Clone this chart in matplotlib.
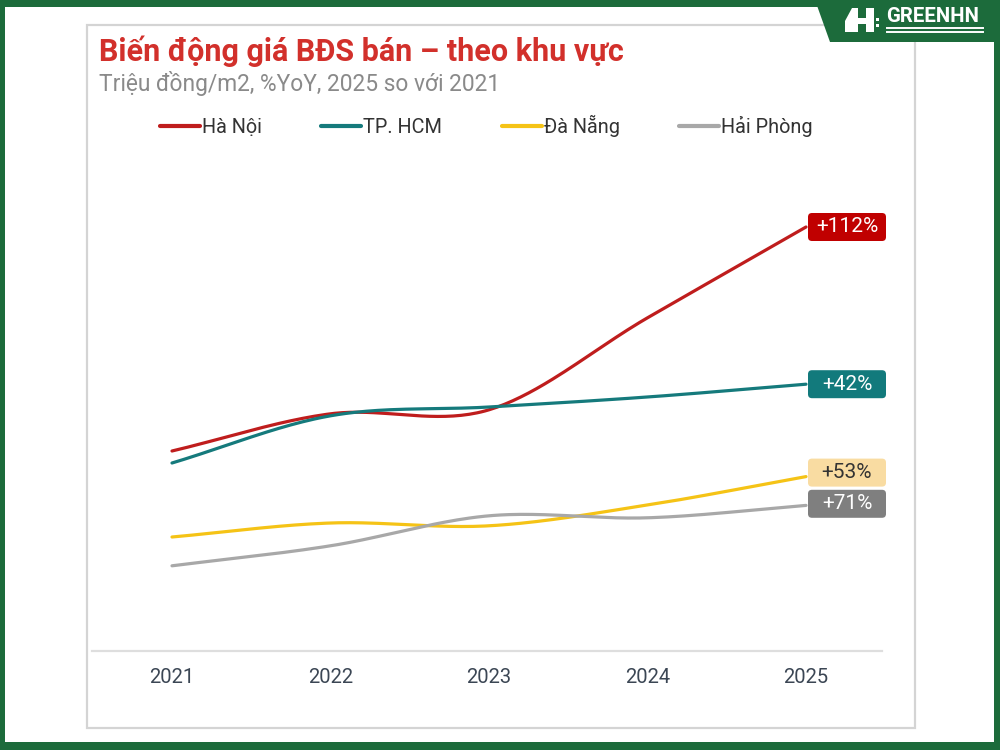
import numpy as np
import matplotlib
matplotlib.use('Agg')
import matplotlib.pyplot as plt
from matplotlib.patches import Rectangle, Polygon, FancyBboxPatch
from matplotlib.lines import Line2D

# ---------------- data ----------------
years = [2021, 2022, 2023, 2024, 2025]
series_names = ["Hà Nội", "TP. HCM", "Đà Nẵng", "Hải Phòng"]
ha_noi = [50.0, 59.3, 60.3, 83.3, 106.0]
tp_hcm = [47.0, 58.8, 61.0, 63.5, 66.7]
da_nang = [28.5, 32.0, 31.3, 36.5, 43.6]
hai_phong = [21.3, 26.3, 33.8, 33.3, 36.4]
change_labels = ["+112%", "+42%", "+53%", "+71%"]
title = "Biến động giá BĐS bán – theo khu vực"
subtitle = "Triệu đồng/m2, %YoY, 2025 so với 2021"

series = [ha_noi, tp_hcm, da_nang, hai_phong]
line_colors = ["#bf1d1d", "#157a7c", "#f5c316", "#a8a8a8"]
box_colors = ["#c00000", "#127a7c", "#f9dca2", "#7f7f7f"]
box_text_colors = ["white", "white", "#333333", "white"]
label_offsets = [0.0, 0.0, 1.0, 0.4]  # vertical nudge (data units)

plt.rcParams['font.family'] = ['Roboto', 'DejaVu Sans']

W, H = 1000, 750
fig = plt.figure(figsize=(10, 7.5), dpi=100)
green = "#1c6b3b"
fig.patch.set_facecolor(green)

def fx(px):
    return px / W

def fy(py):
    return 1 - py / H

# white inner area
fig.add_artist(Rectangle((fx(5), fy(742)), fx(994) - fx(5), fy(7) - fy(742),
                         transform=fig.transFigure, facecolor="white",
                         edgecolor="none", zorder=-3))
# card
fig.add_artist(Rectangle((fx(87), fy(728)), fx(915) - fx(87), fy(25) - fy(728),
                         transform=fig.transFigure, facecolor="white",
                         edgecolor="#d4d4d4", lw=1.6, zorder=-2))
# logo tab
fig.add_artist(Polygon([(fx(815), fy(0)), (fx(830), fy(42)), (fx(1000), fy(42)),
                        (fx(1000), fy(0))], closed=True, transform=fig.transFigure,
                       facecolor=green, edgecolor="none", zorder=-1))
fig.text(fx(886), fy(16), "GREENHN", color="white", fontsize=14.7, fontweight="bold",
         ha="left", va="center", zorder=10)
for yy in (28, 32):
    fig.add_artist(Line2D([fx(887), fx(983)], [fy(yy), fy(yy)], transform=fig.transFigure,
                          color="white", lw=1.4, zorder=10))
# logo icon (simplified)
fig.add_artist(Polygon([(fx(845), fy(32)), (fx(845), fy(21)), (fx(852), fy(8)),
                        (fx(858), fy(8)), (fx(858), fy(18)), (fx(866), fy(18)),
                        (fx(866), fy(8)), (fx(874), fy(8)), (fx(874), fy(32)),
                        (fx(866), fy(32)), (fx(866), fy(24)), (fx(858), fy(24)),
                        (fx(858), fy(32))], closed=True, transform=fig.transFigure,
                       facecolor="white", edgecolor="none", zorder=10))
fig.add_artist(Rectangle((fx(876), fy(21)), fx(3), fy(18) - fy(21), transform=fig.transFigure,
                         facecolor="white", edgecolor="none", zorder=10))
fig.add_artist(Rectangle((fx(876), fy(27)), fx(3), fy(24) - fy(27), transform=fig.transFigure,
                         facecolor="white", edgecolor="none", zorder=10))

# titles
fig.text(fx(99), fy(51), title, color="#d2302b", fontsize=22, fontweight="bold",
         ha="left", va="center", zorder=10)
fig.text(fx(99), fy(83), subtitle, color="#8a8a8a", fontsize=16.4,
         ha="left", va="center", zorder=10)

# axes
ax_left, ax_right = 92, 882
ax_bottom, ax_top = 651, 200
ax = fig.add_axes([fx(ax_left), fy(ax_bottom), fx(ax_right) - fx(ax_left),
                   fy(ax_top) - fy(ax_bottom)])
ax.set_zorder(5)
ax.patch.set_alpha(0)
px_per_year = 158.5
px_per_unit = 4.0
x0 = 2021 - (172 - ax_left) / px_per_year
x1 = x0 + (ax_right - ax_left) / px_per_year
ax.set_xlim(x0, x1)
ax.set_ylim(0, (ax_bottom - ax_top) / px_per_unit)


def catmull_rom(xs, ys, n=40):
    xs = np.asarray(xs, float)
    ys = np.asarray(ys, float)
    m = np.zeros_like(ys)
    m[1:-1] = (ys[2:] - ys[:-2]) / (xs[2:] - xs[:-2])
    m[0] = (ys[1] - ys[0]) / (xs[1] - xs[0])
    m[-1] = (ys[-1] - ys[-2]) / (xs[-1] - xs[-2])
    ox, oy = [], []
    for i in range(len(xs) - 1):
        h = xs[i + 1] - xs[i]
        t = np.linspace(0, 1, n, endpoint=(i == len(xs) - 2))
        h00 = 2 * t**3 - 3 * t**2 + 1
        h10 = t**3 - 2 * t**2 + t
        h01 = -2 * t**3 + 3 * t**2
        h11 = t**3 - t**2
        ox.extend(xs[i] + t * h)
        oy.extend(h00 * ys[i] + h10 * h * m[i] + h01 * ys[i + 1] + h11 * h * m[i + 1])
    return np.array(ox), np.array(oy)

handles = []
for name, vals, col in zip(series_names, series, line_colors):
    sx, sy = catmull_rom(years, vals)
    ln, = ax.plot(sx, sy, color=col, lw=2.3, solid_capstyle="round", label=name,
                  clip_on=False)
    handles.append(ln)

# end labels
box_w = 78 / px_per_year
box_h = 28 / px_per_unit
bx = years[-1] + 2 / px_per_year
for vals, lab, bc, tc, off in zip(series, change_labels, box_colors, box_text_colors,
                                  label_offsets):
    yc = vals[-1] + off
    box = FancyBboxPatch((bx, yc - box_h / 2), box_w, box_h,
                         boxstyle="round,pad=0,rounding_size=0.025",
                         mutation_aspect=px_per_year / px_per_unit,
                         facecolor=bc, edgecolor="none", clip_on=False, zorder=6)
    ax.add_patch(box)
    ax.text(bx + box_w / 2, yc, lab, color=tc, fontsize=15, ha="center", va="center",
            zorder=7, clip_on=False)

for s in ["top", "left", "right"]:
    ax.spines[s].set_visible(False)
ax.spines["bottom"].set_color("#dedede")
ax.spines["bottom"].set_linewidth(1.6)
ax.set_yticks([])
ax.set_xticks(years)
ax.set_xticklabels([str(y) for y in years])
ax.tick_params(axis="x", length=0, pad=12, labelsize=14.5, labelcolor="#3b4654")

leg = fig.legend(handles=handles, loc="center left",
                 bbox_to_anchor=(fx(160), fy(126)), ncol=4, frameon=False,
                 fontsize=14.3, handlelength=2.02, handletextpad=0.1,
                 columnspacing=2.98, borderaxespad=0, borderpad=0)
for t in leg.get_texts():
    t.set_color("#333333")
for lh in leg.get_lines():
    lh.set_linewidth(3)
leg.set_zorder(10)

fig.savefig("out.png", dpi=100, facecolor=fig.get_facecolor())
